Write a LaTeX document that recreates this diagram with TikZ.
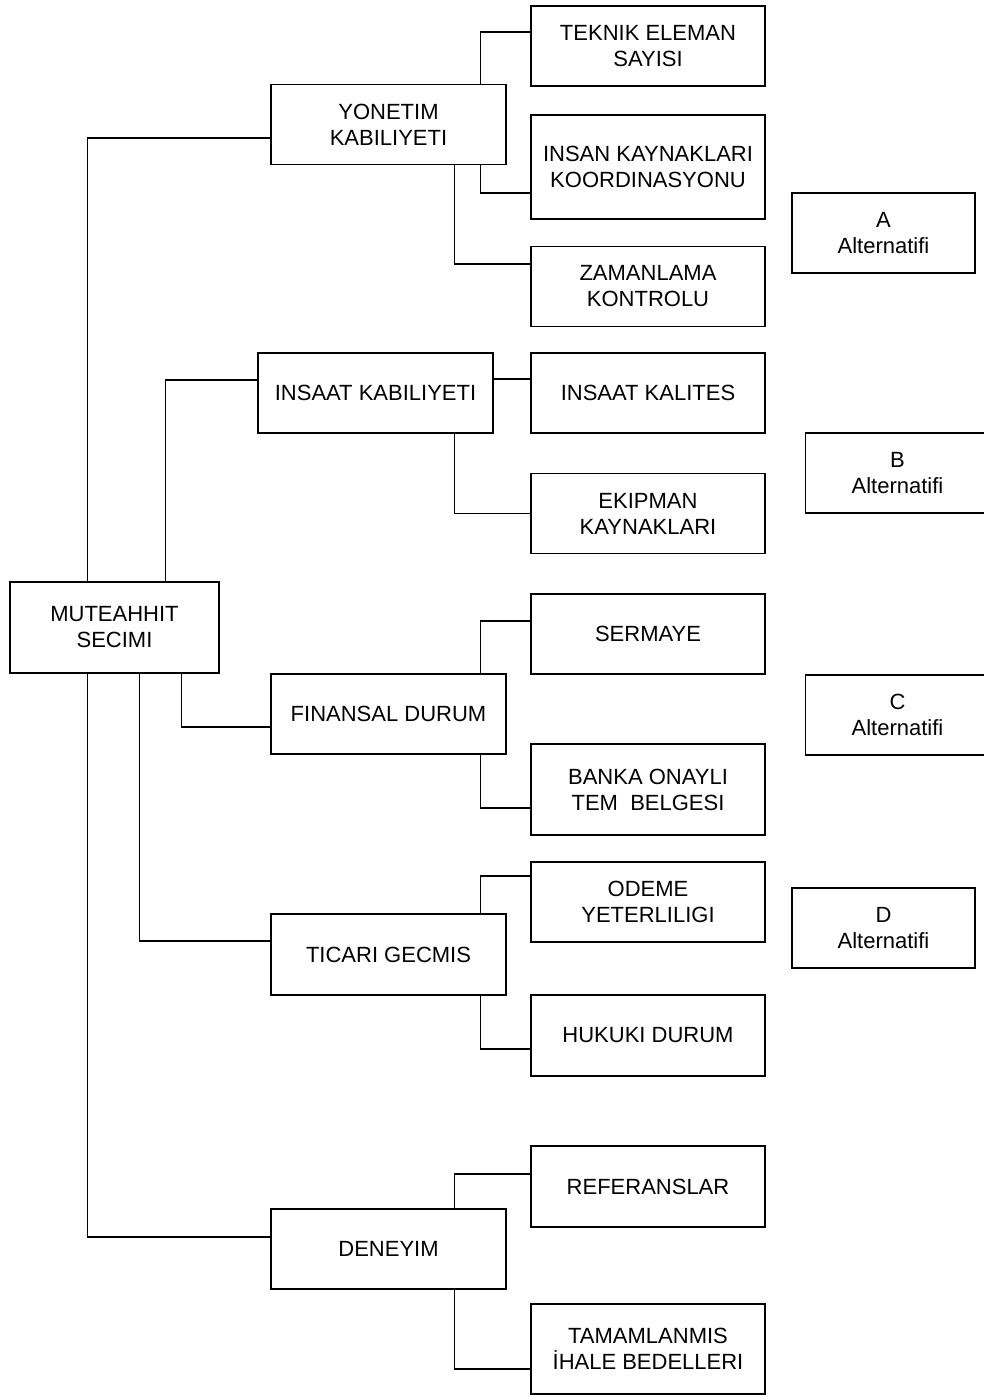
\documentclass[tikz,border=0pt]{standalone}
\usepackage{fontspec}
\setmainfont{Liberation Sans}
\usetikzlibrary{positioning}
\tikzset{
  kutu/.style={draw,line width=0.7pt,inner sep=0pt,align=center,
    font=\fontsize{11}{13}\selectfont},
  ana/.style={kutu,minimum width=117.5pt,minimum height=40pt},
  alt/.style={kutu,minimum width=117pt,minimum height=40pt},
  sec/.style={kutu,minimum width=92pt,minimum height=40pt},
  bag/.style={line width=0.6pt}
}

\begin{document}
\begin{tikzpicture}[x=0.5pt,y=-0.5pt]
\useasboundingbox (0,0) rectangle (984,1396);

% ana kriter
\node[kutu,minimum width=104.5pt,minimum height=45.5pt] (mut) at (114.5,627.5) {MUTEAHHIT\\SECIMI};

% kriterler
\node[ana] (yon) at (388.5,124.5) {YONETIM\\KABILIYETI};
\node[ana] (ika) at (375.5,393) {INSAAT KABILIYETI};
\node[ana] (fin) at (388.5,714) {FINANSAL DURUM};
\node[ana,minimum height=40.5pt] (tic) at (388.5,954.5) {TICARI GECMIS};
\node[ana] (den) at (388.5,1249) {DENEYIM};

% alt kriterler
\node[alt] (tek) at (648,46) {TEKNIK ELEMAN\\SAYISI};
\node[alt,minimum height=52pt] (ins) at (648,167) {INSAN KAYNAKLARI\\KOORDINASYONU};
\node[alt] (zam) at (648,286.5) {ZAMANLAMA\\KONTROLU};
\node[alt] (ikal) at (648,393) {INSAAT KALITES};
\node[alt] (eki) at (648,513.5) {EKIPMAN\\KAYNAKLARI};
\node[alt] (ser) at (648,634) {SERMAYE};
\node[alt,minimum height=45.5pt] (ban) at (648,789.5) {BANKA ONAYLI\\TEM~~BELGESI};
\node[alt] (ode) at (648,902) {ODEME\\YETERLILIGI};
\node[alt,minimum height=40.5pt] (huk) at (648,1035.5) {HUKUKI DURUM};
\node[alt,minimum height=40.5pt] (ref) at (648,1186.5) {REFERANSLAR};
\node[alt,minimum height=45pt] (tam) at (648,1349) {TAMAMLANMIS\\İHALE BEDELLERI};

% alternatifler
\node[sec,minimum width=91.5pt] (altA) at (883.5,233) {A\\Alternatifi};
\node[sec] (altB) at (897.5,473) {B\\Alternatifi};
\node[sec] (altC) at (897.5,715) {C\\Alternatifi};
\node[sec,minimum width=91.5pt] (altD) at (883.5,928) {D\\Alternatifi};

% baglantilar
\draw[bag] ([xshift=39pt]mut.north west) |- ([yshift=-6.75pt]yon.west);
\draw[bag] ([xshift=78pt]mut.north west) |- ([yshift=6.5pt]ika.west);
\draw[bag] ([xshift=86pt]mut.south west) |- ([yshift=-6.5pt]fin.west);
\draw[bag] ([xshift=65pt]mut.south west) |- ([yshift=6.75pt]tic.west);
\draw[bag] ([xshift=39pt]mut.south west) |- ([yshift=6pt]den.west);

\draw[bag] ([xshift=-13pt]yon.north east) |- ([yshift=7pt]tek.west);
\draw[bag] ([xshift=-13pt]yon.south east) |- ([yshift=-13pt]ins.west);
\draw[bag] ([xshift=-26pt]yon.south east) |- ([yshift=11.25pt]zam.west);

\draw[bag] ([yshift=7pt]ika.east) -- ([yshift=7pt]ikal.west);
\draw[bag] ([xshift=-19.5pt]ika.south east) |- (eki.west);

\draw[bag] ([xshift=-13pt]fin.north east) |- ([yshift=6.5pt]ser.west);
\draw[bag] ([xshift=-13pt]fin.south east) |- ([yshift=-9.25pt]ban.west);

\draw[bag] ([xshift=-13pt]tic.north east) |- ([yshift=13pt]ode.west);
\draw[bag] ([xshift=-13pt]tic.south east) |- ([yshift=-6.75pt]huk.west);

\draw[bag] ([xshift=-26pt]den.north east) |- ([yshift=6.25pt]ref.west);
\draw[bag] ([xshift=-26pt]den.south east) |- ([yshift=-10pt]tam.west);
\end{tikzpicture}
\end{document}
